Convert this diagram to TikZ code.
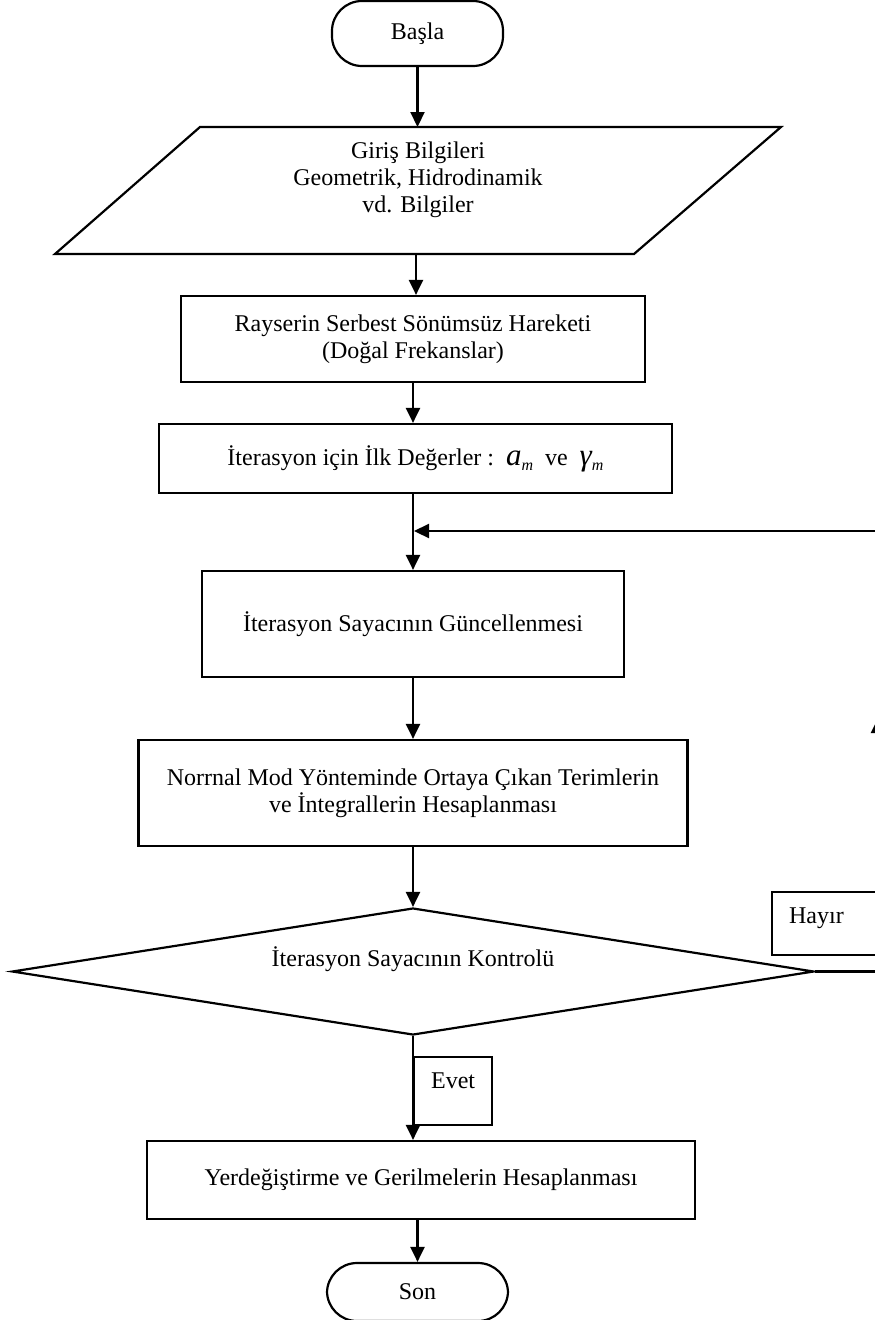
\documentclass[tikz,border=0pt]{standalone}
\usepackage{fontspec}
\setmainfont{Liberation Serif}
\usetikzlibrary{shapes.geometric,arrows.meta}
\newcommand{\indis}[2]{{\fontsize{31}{31}\selectfont\itshape #1}\raisebox{-5pt}{\fontsize{16}{16}\selectfont\itshape #2}}
\begin{document}
\begin{tikzpicture}[x=1pt,y=-1pt,line width=2.2pt,
  every node/.style={font=\fontsize{24}{27}\selectfont,align=center,inner sep=0pt},
  kutu/.style={draw,rectangle},
  uc/.style={draw,rectangle,rounded corners=30pt},
  karar/.style={draw,diamond,shape aspect=6.3},
  etiket/.style={draw,anchor=north west,align=left,inner xsep=17pt,inner ysep=0pt,text height=31pt},
  ok/.style={-{Triangle[width=14pt,length=15pt]}}]
\clip (0,0) rectangle (875,1320);
\node[uc,minimum width=171pt,minimum height=65pt] (basla) at (417.5,33.5) {Başla};
\draw (200,127) -- (781,127) -- (634,254) -- (55,254) -- cycle;
\coordinate (gUst) at (417.5,127);
\coordinate (gAlt) at (416,254);
\node (giris) at (418,180) {Giriş Bilgileri\\Geometrik, Hidrodinamik\\vd. Bilgiler};
\node[kutu,minimum width=464pt,minimum height=86pt] (rayser) at (413,339) {Rayserin Serbest Sönümsüz Hareketi\\(Doğal Frekanslar)};
\node[kutu,minimum width=513pt,minimum height=69pt] (ilk) at (415.5,458.5) {İterasyon için İlk Değerler :\ \ \indis{a}{m}\ \ ve\ \ \indis{γ}{m}};
\node[kutu,minimum width=422pt,minimum height=106pt] (guncel) at (413,624) {İterasyon Sayacının Güncellenmesi};
\node[kutu,minimum width=549pt,minimum height=106pt] (normal) at (413,793) {Norrnal Mod Yönteminde Ortaya Çıkan Terimlerin\\ve İntegrallerin Hesaplanması};
\node[karar,minimum width=802pt,minimum height=127pt,text height=17pt,text depth=27pt] (kontrol) at (413,971.5) {İterasyon Sayacının Kontrolü};
\node[kutu,minimum width=548pt,minimum height=78pt] (yerdeg) at (421,1180) {Yerdeğiştirme ve Gerilmelerin Hesaplanması};
\node[uc,minimum width=181pt,minimum height=58pt] (son) at (417.5,1292) {Son};
\node[etiket,text width=70pt,text depth=32pt] (hayir) at (771,891) {Hayır};
\node[etiket,text width=44pt,text depth=37pt] (evet) at (413,1056) {Evet};
\coordinate (donA) at (878,971.5);
\coordinate (donB) at (878,718);
\coordinate (donC) at (878,531);
\coordinate (birles) at (414,531);
\draw[ok] (basla.south) -- (gUst);
\draw[ok] (gAlt) -- (gAlt |- rayser.north);
\draw[ok] (rayser.south) -- (rayser.south |- ilk.north);
\draw[ok] (ilk.south -| guncel.north) -- (guncel.north);
\draw[ok] (guncel.south) -- (normal.north);
\draw[ok] (normal.south) -- (kontrol.north);
\draw[ok] (kontrol.south) -- (kontrol.south |- yerdeg.north);
\draw[ok] (yerdeg.south -| son.north) -- (son.north);
\draw[ok] (kontrol.east) -- (donA) -- (donB);
\draw[ok] (donB) -- (donC) -- (birles);
\end{tikzpicture}
\end{document}
